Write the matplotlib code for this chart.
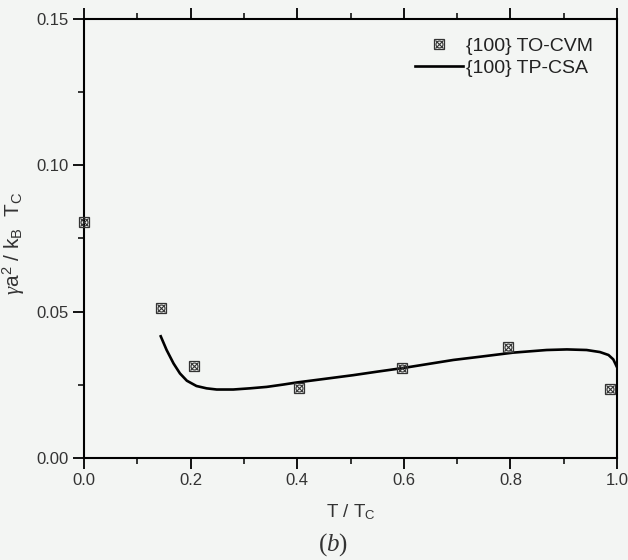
import numpy as np
import matplotlib
matplotlib.use("Agg")
import matplotlib.pyplot as plt
from matplotlib.legend_handler import HandlerTuple
from matplotlib.ticker import MultipleLocator

# Data
cvm_x = [0.0, 0.145, 0.206, 0.403, 0.597, 0.795, 0.987]
cvm_y = [0.0807, 0.0512, 0.0315, 0.0240, 0.0306, 0.0380, 0.0235]

csa_x = [0.143, 0.155, 0.168, 0.180, 0.193, 0.211, 0.230, 0.249, 0.280, 0.311,
         0.343, 0.374, 0.399, 0.450, 0.505, 0.550, 0.597, 0.645, 0.693, 0.743,
         0.805, 0.868, 0.906, 0.943, 0.968, 0.984, 0.993, 0.998, 1.0]
csa_y = [0.0420, 0.0369, 0.0323, 0.0289, 0.0264, 0.0246, 0.0238, 0.0234, 0.0234, 0.0238,
         0.0243, 0.0251, 0.0258, 0.0270, 0.0283, 0.0295, 0.0307, 0.0321, 0.0335, 0.0346,
         0.0360, 0.0369, 0.0371, 0.0369, 0.0362, 0.0352, 0.0337, 0.0318, 0.0310]

label_cvm = "{100} TO-CVM"
label_csa = "{100} TP-CSA"

plt.rcParams['font.family'] = ['Liberation Sans', 'DejaVu Sans']
plt.rcParams['mathtext.fontset'] = 'custom'
plt.rcParams['mathtext.rm'] = 'Liberation Sans'
plt.rcParams['mathtext.it'] = 'Liberation Serif:italic'

bg = '#f3f5f3'
txt = '#333333'
fig = plt.figure(figsize=(6.28, 5.6), dpi=100, facecolor=bg)
ax = fig.add_axes([84/628, 1-458/560, (617-84)/628, (458-19)/560])
ax.set_facecolor(bg)

ax.plot(csa_x, csa_y, color='black', lw=1.9, solid_capstyle='butt',
        solid_joinstyle='round', zorder=3)
h_line, = ax.plot([], [], color='black', lw=1.9)

col = '#333333'
m1, = ax.plot(cvm_x, cvm_y, ls='none', marker='s', ms=7, mfc='none', mec=col, mew=0.9, zorder=4, clip_on=False)
m2, = ax.plot(cvm_x, cvm_y, ls='none', marker='x', ms=6, mec=col, mew=0.8, zorder=4, clip_on=False)
m3, = ax.plot(cvm_x, cvm_y, ls='none', marker='o', ms=5, mfc='none', mec=col, mew=0.8, zorder=4, clip_on=False)

ax.set_xlim(0, 1.0)
ax.set_ylim(0, 0.15)
ax.xaxis.set_major_locator(MultipleLocator(0.2))
ax.xaxis.set_minor_locator(MultipleLocator(0.1))
ax.yaxis.set_major_locator(MultipleLocator(0.05))
ax.yaxis.set_minor_locator(MultipleLocator(0.025))
ax.xaxis.set_major_formatter(plt.FuncFormatter(lambda v, p: f"{v:.1f}"))
ax.yaxis.set_major_formatter(plt.FuncFormatter(lambda v, p: f"{v:.2f}"))

ax.tick_params(axis='both', which='major', direction='out', length=8, width=1.3,
               labelsize=12, labelcolor=txt, pad=3)
ax.tick_params(axis='both', which='minor', direction='out', length=4.5, width=1.1)
ax.tick_params(axis='x', which='both', top=True)
ax.tick_params(axis='y', which='both', right=False)
for s in ax.spines.values():
    s.set_linewidth(1.5)

ax.set_xlabel(r"T / T$_\mathregular{C}$", fontsize=13.5, color=txt, labelpad=10)
ax.set_ylabel(r"$\gamma$a$^\mathregular{2}$ / k$_\mathregular{B}$  T$_\mathregular{C}$",
              fontsize=15, color=txt)
ax.yaxis.set_label_coords(-0.107, 0.49)

leg = ax.legend([(m1, m2, m3), h_line], [label_cvm, label_csa],
                handler_map={tuple: HandlerTuple(ndivide=1, pad=0)},
                loc='upper right', frameon=False, fontsize=14,
                handlelength=2.5, handletextpad=0.15, labelspacing=0.25,
                borderaxespad=0.3, bbox_to_anchor=(0.981, 0.99))
for t in leg.get_texts():
    t.set_color('#222222')

fig.text(333/628, 1-545/560, "($\\it{b}$)", fontsize=18, ha='center', va='center',
         family='Liberation Serif', color=txt)

fig.savefig('out.png', dpi=100, facecolor=bg)
